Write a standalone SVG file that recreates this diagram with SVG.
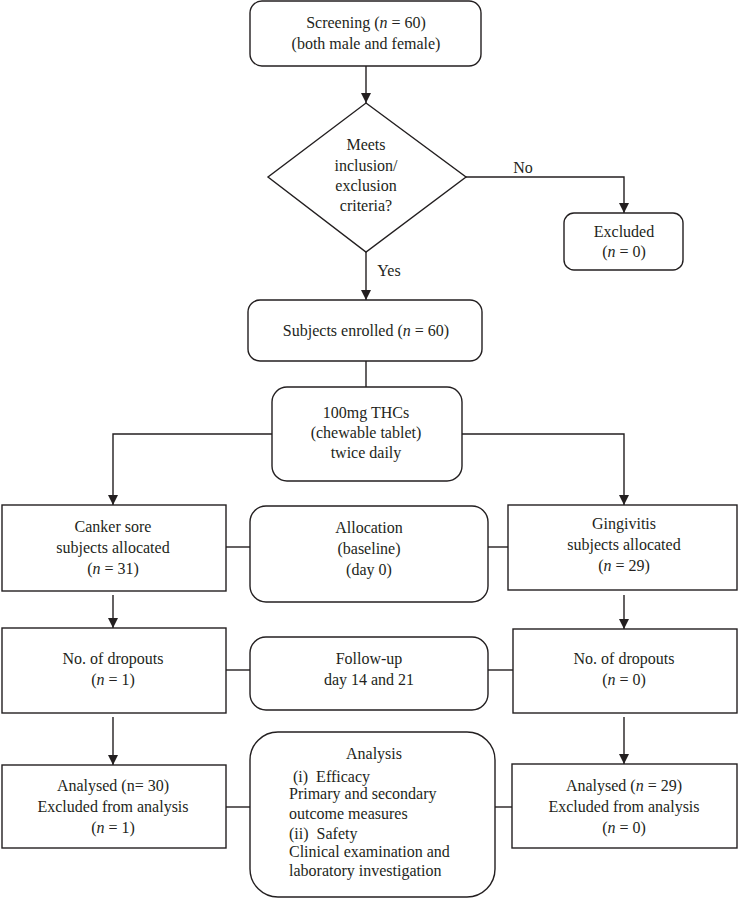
<svg xmlns="http://www.w3.org/2000/svg" width="739" height="899" viewBox="0 0 739 899">
<style>
.b{fill:#fff;stroke:#231f20;stroke-width:1.4}
.c{fill:none;stroke:#231f20;stroke-width:1.4}
text{font-family:"Liberation Serif","Times New Roman",serif;font-size:16px;fill:#231f20;text-anchor:middle}
.l{text-anchor:start}
</style>
<defs>
<marker id="ah" markerWidth="12" markerHeight="12" refX="10" refY="5" orient="auto" markerUnits="userSpaceOnUse">
<path d="M0,0 L10,5 L0,10 Z" fill="#231f20"/>
</marker>
</defs>
<rect width="739" height="899" fill="#fff"/>
<g id="connectors">
<path class="c" d="M366,66 V103" marker-end="url(#ah)"/>
<path class="c" d="M466,177 H624 V213" marker-end="url(#ah)"/>
<path class="c" d="M366,252 V300" marker-end="url(#ah)"/>
<path class="c" d="M366,361 V387"/>
<path class="c" d="M272,434 H113 V505" marker-end="url(#ah)"/>
<path class="c" d="M462,434 H624 V505" marker-end="url(#ah)"/>
<path class="c" d="M226,547 H250"/>
<path class="c" d="M488,547 H508"/>
<path class="c" d="M113,595 V628" marker-end="url(#ah)"/>
<path class="c" d="M624,595 V629" marker-end="url(#ah)"/>
<path class="c" d="M226,670 H250"/>
<path class="c" d="M488,670 H513"/>
<path class="c" d="M113,717 V765" marker-end="url(#ah)"/>
<path class="c" d="M624,717 V764" marker-end="url(#ah)"/>
<path class="c" d="M226,807 H250"/>
<path class="c" d="M495,807 H512"/>
<text x="523" y="173">No</text>
<text x="389" y="276">Yes</text>
</g>
<g id="screening">
<rect class="b" x="250" y="1" width="231" height="65" rx="12"/>
<text x="366" y="28">Screening (<tspan font-style="italic">n</tspan> = 60)</text>
<text x="366" y="49">(both male and female)</text>
</g>
<g id="criteria">
<path class="b" d="M366,103 L466,177 L366,252 L268,177 Z"/>
<text x="366" y="150">Meets</text>
<text x="366" y="171">inclusion/</text>
<text x="366" y="191">exclusion</text>
<text x="366" y="211">criteria?</text>
</g>
<g id="excluded">
<rect class="b" x="564" y="213" width="119" height="57" rx="10"/>
<text x="624" y="237">Excluded</text>
<text x="624" y="257">(<tspan font-style="italic">n</tspan> = 0)</text>
</g>
<g id="enrolled">
<rect class="b" x="248" y="300" width="234" height="61" rx="12"/>
<text x="366" y="336">Subjects enrolled (<tspan font-style="italic">n</tspan> = 60)</text>
</g>
<g id="thcs">
<rect class="b" x="272" y="387" width="190" height="94" rx="15"/>
<text x="366" y="418">100mg THCs</text>
<text x="366" y="438">(chewable tablet)</text>
<text x="366" y="458">twice daily</text>
</g>
<g id="canker">
<rect class="b" x="2" y="505" width="224" height="86"/>
<text x="113" y="532">Canker sore</text>
<text x="113" y="553">subjects allocated</text>
<text x="113" y="574">(<tspan font-style="italic">n</tspan> = 31)</text>
</g>
<g id="allocation">
<rect class="b" x="250" y="506" width="238" height="96" rx="16"/>
<text x="369" y="533">Allocation</text>
<text x="369" y="554">(baseline)</text>
<text x="369" y="575">(day 0)</text>
</g>
<g id="gingivitis">
<rect class="b" x="508" y="505" width="229" height="85"/>
<text x="624" y="529">Gingivitis</text>
<text x="624" y="550">subjects allocated</text>
<text x="624" y="571">(<tspan font-style="italic">n</tspan> = 29)</text>
</g>
<g id="dropouts-left">
<rect class="b" x="2" y="628" width="224" height="85"/>
<text x="113" y="664">No. of dropouts</text>
<text x="113" y="685">(<tspan font-style="italic">n</tspan> = 1)</text>
</g>
<g id="followup">
<rect class="b" x="250" y="637" width="238" height="73" rx="16"/>
<text x="369" y="664">Follow-up</text>
<text x="369" y="685">day 14 and 21</text>
</g>
<g id="dropouts-right">
<rect class="b" x="513" y="629" width="224" height="84"/>
<text x="624" y="664">No. of dropouts</text>
<text x="624" y="685">(<tspan font-style="italic">n</tspan> = 0)</text>
</g>
<g id="analysed-left">
<rect class="b" x="2" y="765" width="224" height="83"/>
<text x="113" y="791">Analysed (n= 30)</text>
<text x="113" y="812">Excluded from analysis</text>
<text x="113" y="833">(<tspan font-style="italic">n</tspan> = 1)</text>
</g>
<g id="analysis">
<rect class="b" x="250" y="732" width="245" height="165" rx="28"/>
<text x="374" y="759">Analysis</text>
<text class="l" x="293" y="782" xml:space="preserve">(i)  Efficacy</text>
<text class="l" x="289" y="799">Primary and secondary</text>
<text class="l" x="289" y="819">outcome measures</text>
<text class="l" x="289" y="839" xml:space="preserve">(ii)  Safety</text>
<text class="l" x="289" y="857">Clinical examination and</text>
<text class="l" x="289" y="876">laboratory investigation</text>
</g>
<g id="analysed-right">
<rect class="b" x="512" y="764" width="225" height="84"/>
<text x="624" y="791">Analysed (<tspan font-style="italic">n</tspan> = 29)</text>
<text x="624" y="812">Excluded from analysis</text>
<text x="624" y="833">(<tspan font-style="italic">n</tspan> = 0)</text>
</g>
</svg>
